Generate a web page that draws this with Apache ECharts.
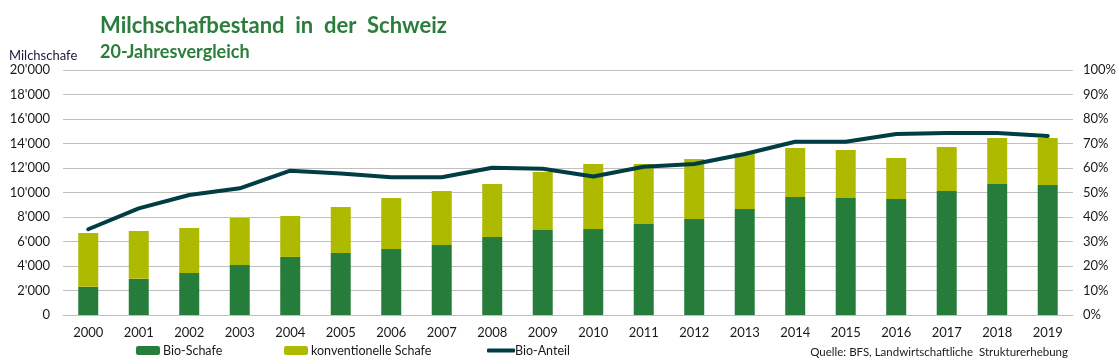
<!DOCTYPE html>
<html>
<head>
<meta charset="utf-8">
<script src="https://cdn.jsdelivr.net/npm/echarts@6/dist/echarts.min.js"></script>
<style>
html,body{margin:0;padding:0;background:#fff;}
#chart{width:1119px;height:364px;}
</style>
</head>
<body>
<div id="chart"></div>
<script>
const years = ['2000','2001','2002','2003','2004','2005','2006','2007','2008','2009','2010','2011','2012','2013','2014','2015','2016','2017','2018','2019'];
const bioSchafe = [2300,2950,3430,4080,4740,5060,5390,5710,6370,6940,7020,7430,7840,8650,9630,9550,9470,10120,10690,10610];
const konvSchafe = [4400,3910,3670,3840,3340,3760,4160,4410,4320,4730,5310,4900,4900,4570,4000,3920,3350,3590,3760,3840];
const bioAnteil = [0.35,0.435,0.49,0.517,0.589,0.578,0.562,0.562,0.601,0.597,0.565,0.605,0.616,0.657,0.707,0.707,0.739,0.743,0.743,0.731];

const FONT = 'Lato';
const GREEN = '#267c3b';
const YEL = '#adba00';
const DARK = '#003d44';

function fmtThousands(v){
  const s = String(Math.round(v));
  return s.replace(/\B(?=(\d{3})+(?!\d))/g, "'");
}

const chart = echarts.init(document.getElementById('chart'), null, {renderer:'canvas'});
chart.setOption({
  animation:false,
  backgroundColor:'#fff',
  textStyle:{fontFamily:FONT},
  title:[
    {text:'Milchschafbestand  in  der  Schweiz', left:95, top:10,
     textStyle:{fontFamily:FONT, fontWeight:'bold', fontSize:22, color:'#2a7d3b'}},
    {text:'20-Jahresvergleich', left:95, top:38,
     textStyle:{fontFamily:FONT, fontWeight:'bold', fontSize:18, color:'#2a7d3b'}},
    {text:'Milchschafe', left:4, top:44,
     textStyle:{fontFamily:FONT, fontWeight:'normal', fontSize:13, color:'#1a1a3a'}},
    {text:'Quelle: BFS, Landwirtschaftliche  Strukturerhebung', right:46, top:341,
     textStyle:{fontFamily:FONT, fontWeight:'normal', fontSize:11.5, color:'#1a1a1a'}}
  ],
  grid:{left:63, right:46, top:70, bottom:49, containLabel:false},
  legend:[
    {data:['Bio-Schafe'], left:131, top:339, itemWidth:24, itemHeight:9,
     textStyle:{fontFamily:FONT, fontSize:12.5, color:'#1a1a1a', padding:[0,0,0,-2]}},
    {data:['konventionelle Schafe'], left:279, top:339, itemWidth:24, itemHeight:9,
     textStyle:{fontFamily:FONT, fontSize:12.5, color:'#1a1a1a', padding:[0,0,0,-2]}},
    {data:[{name:'Bio-Anteil', icon:'roundRect'}], left:482, top:339, itemWidth:28, itemHeight:4,
     textStyle:{fontFamily:FONT, fontSize:12.5, color:'#1a1a1a', padding:[0,0,0,-5]}}
  ],
  xAxis:{
    type:'category', data:years,
    axisLine:{show:true, lineStyle:{color:'#bfbfbf', width:1}},
    axisTick:{show:false},
    axisLabel:{fontFamily:FONT, fontSize:13, color:'#1a1a1a', margin:11}
  },
  yAxis:[
    {type:'value', min:0, max:20000, interval:2000,
     axisLine:{show:false}, axisTick:{show:false},
     splitLine:{lineStyle:{color:'#bfbfbf', width:1}},
     axisLabel:{fontFamily:FONT, fontSize:13, color:'#1a1a1a', margin:13, formatter:fmtThousands}},
    {type:'value', min:0, max:1, interval:0.1, position:'right',
     axisLine:{show:false}, axisTick:{show:false}, splitLine:{show:false},
     axisLabel:{fontFamily:FONT, fontSize:13, color:'#1a1a1a', margin:10,
       formatter:v=>Math.round(v*100)+'%'}}
  ],
  series:[
    {name:'Bio-Schafe', type:'bar', stack:'s', data:bioSchafe, barWidth:20,
     itemStyle:{color:GREEN}},
    {name:'konventionelle Schafe', type:'bar', stack:'s', data:konvSchafe, barWidth:20,
     itemStyle:{color:YEL}},
    {name:'Bio-Anteil', type:'line', yAxisIndex:1, data:bioAnteil, symbol:'none',
     lineStyle:{color:DARK, width:4, cap:'round', join:'round'}, itemStyle:{color:DARK}}
  ]
});
</script>
</body>
</html>
